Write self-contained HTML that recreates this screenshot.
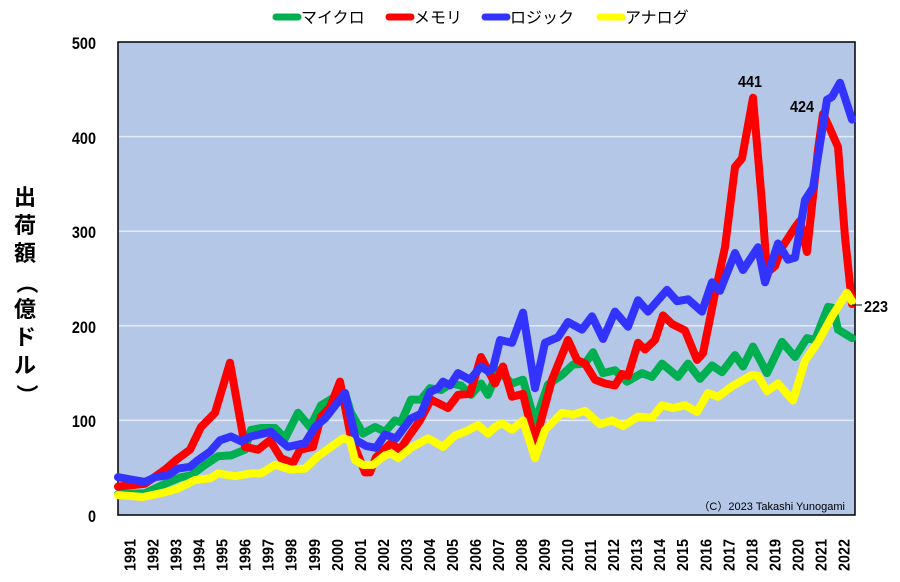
<!DOCTYPE html>
<html><head><meta charset="utf-8"><style>
body{margin:0;background:#fff;width:900px;height:577px;overflow:hidden}
svg text{font-family:"Liberation Sans","Noto Sans CJK JP",sans-serif}
</style></head><body>
<svg id="s" width="900" height="577" xmlns="http://www.w3.org/2000/svg">
<rect x="118" y="42" width="737" height="473" fill="#b4c7e7" stroke="#000" stroke-width="1.5"/>
<g stroke="#e6ecf7" stroke-width="1.5">
<line x1="119" x2="854" y1="420.4" y2="420.4"/><line x1="119" x2="854" y1="325.8" y2="325.8"/>
<line x1="119" x2="854" y1="231.2" y2="231.2"/><line x1="119" x2="854" y1="136.6" y2="136.6"/>
</g>
<g font-size="17" font-weight="bold" text-anchor="end" fill="#000">
<text transform="translate(96,49) scale(0.85,1)">500</text><text transform="translate(96,144) scale(0.85,1)">400</text><text transform="translate(96,238) scale(0.85,1)">300</text>
<text transform="translate(96,333) scale(0.85,1)">200</text><text transform="translate(96,427) scale(0.85,1)">100</text><text transform="translate(96,522) scale(0.85,1)">0</text>
</g>
<g font-size="22" font-weight="bold" text-anchor="middle">
<text x="25" y="205">出</text><text x="25" y="233">荷</text><text x="25" y="261">額</text>
<text x="25" y="289" transform="rotate(90 25 283)">（</text>
<text x="25" y="317">億</text><text x="25" y="345">ド</text><text x="25" y="373">ル</text>
<text x="25" y="401" transform="rotate(90 25 395)">）</text>
</g>
<g id="years" font-size="16" font-weight="bold"></g>
<g id="lines" fill="none" stroke-width="8" stroke-linejoin="round" stroke-linecap="round"></g>
<g font-size="16" font-weight="bold">
<text transform="translate(738,87) scale(0.9,1)">441</text><text transform="translate(790,112) scale(0.9,1)">424</text><text transform="translate(864,312) scale(0.9,1)">223</text>
</g>
<line x1="852" y1="305" x2="862" y2="305" stroke="#000" stroke-width="1"/>
<text x="845" y="510" font-size="11" text-anchor="end">（C）2023 Takashi Yunogami</text>
<g font-size="16">
<line x1="276" x2="298" y1="17" y2="17" stroke="#00b050" stroke-width="7" stroke-linecap="round"/><text x="301" y="23">マイクロ</text>
<line x1="389" x2="411" y1="17" y2="17" stroke="#ff0000" stroke-width="7" stroke-linecap="round"/><text x="414" y="23">メモリ</text>
<line x1="485" x2="507" y1="17" y2="17" stroke="#3333ff" stroke-width="7" stroke-linecap="round"/><text x="510" y="23">ロジック</text>
<line x1="600" x2="622" y1="17" y2="17" stroke="#ffff00" stroke-width="7" stroke-linecap="round"/><text x="625" y="23">アナログ</text>
</g>
</svg>
<script>
var ns="http://www.w3.org/2000/svg";
var yg=document.getElementById("years");
for(var i=0;i<32;i++){var cx=118+23.03*(i+0.5);var t=document.createElementNS(ns,"text");
t.setAttribute("transform","translate("+(cx+6)+",571) rotate(-90) scale(0.9,1)");t.textContent=1991+i;yg.appendChild(t);}
function Y(v){return 515-0.946*v}
var G=[118,22,145,23,165,33,181,40,191,42,205,53,218,62,231,63,245,69,251,90,261,92,275,92,285,81,298,108,310,93,321,116,335,125,345,129,351,108,363,86,375,93,385,88,395,100,401,98,411,122,421,122,430,134,441,132,451,139,461,137,471,127,481,139,488,127,498,153,512,139,523,143,535,98,548,138,562,148,573,159,585,160,593,172,603,150,615,153,627,141,642,150,652,146,662,160,678,146,688,160,700,144,712,158,722,151,735,169,743,157,753,178,767,150,782,183,795,167,807,187,815,185,828,220,833,219,838,196,852,187];
var R=[118,30,145,33,165,48,176,58,190,69,201,93,215,108,230,161,245,72,258,69,270,79,281,60,293,55,300,69,313,72,321,104,330,114,340,141,351,82,365,45,370,45,376,61,391,76,400,69,408,82,420,100,431,122,448,113,458,127,470,128,481,167,488,153,495,139,503,157,512,125,523,128,535,76,552,143,568,185,577,164,585,160,595,143,605,139,615,137,622,149,628,147,638,182,645,175,655,185,663,211,672,202,685,195,697,164,703,171,715,234,725,283,735,368,742,377,753,441,762,330,767,256,775,263,782,283,795,304,800,311,807,278,818,386,823,424,828,413,838,389,845,294,852,223];
var B=[118,40,145,35,155,40,168,42,178,49,190,51,198,58,210,67,220,79,231,83,241,78,251,83,271,88,281,78,288,72,305,76,315,93,325,102,345,129,356,79,366,73,376,71,385,85,396,81,411,102,421,107,430,130,438,134,443,141,450,137,458,150,470,143,481,157,488,152,493,155,500,185,512,182,523,214,535,134,545,182,558,188,568,204,582,196,592,210,603,186,615,215,628,199,638,227,648,215,667,238,677,226,688,228,702,215,712,246,720,237,735,277,743,259,758,283,765,246,778,287,788,270,795,272,805,333,813,346,827,439,832,442,840,457,852,418];
var Yl=[118,21,143,19,165,24,178,28,195,37,211,39,218,44,235,41,251,44,261,44,275,53,291,48,305,49,318,62,331,72,343,81,350,79,355,58,363,53,373,53,385,63,391,65,398,60,411,71,428,81,443,72,455,84,465,88,478,95,488,86,495,93,502,97,512,90,523,100,535,60,545,90,562,108,573,106,585,110,600,96,612,100,623,94,638,104,652,103,662,116,673,113,685,116,697,109,708,129,718,125,732,136,752,148,758,147,767,131,778,139,793,121,805,163,818,183,832,210,847,235,852,226];
var lg=document.getElementById("lines");
[[G,"#00b050"],[R,"#ff0000"],[B,"#3333ff"],[Yl,"#ffff00"]].forEach(function(s){var p=[];for(var i=0;i<s[0].length;i+=2)p.push(s[0][i]+","+Y(s[0][i+1]).toFixed(1));
var e=document.createElementNS(ns,"polyline");e.setAttribute("points",p.join(" "));e.setAttribute("stroke",s[1]);lg.appendChild(e);});
</script>
</body></html>
